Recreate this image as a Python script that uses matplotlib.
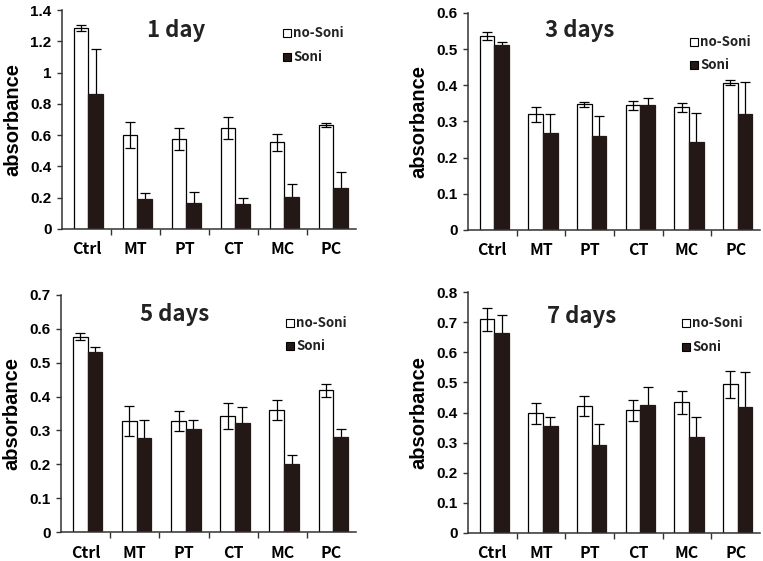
import matplotlib
matplotlib.use("Agg")
import matplotlib.pyplot as plt
import numpy as np
from matplotlib.patches import Rectangle

categories = ["Ctrl", "MT", "PT", "CT", "MC", "PC"]
titles = ["1 day", "3 days", "5 days", "7 days"]

day1_nosoni = [1.285, 0.60, 0.575, 0.645, 0.555, 0.665]
day1_nosoni_err = [0.02, 0.085, 0.07, 0.072, 0.055, 0.015]
day1_soni = [0.86, 0.19, 0.168, 0.163, 0.205, 0.265]
day1_soni_err = [0.29, 0.04, 0.07, 0.037, 0.08, 0.10]

day3_nosoni = [0.537, 0.320, 0.348, 0.345, 0.339, 0.407]
day3_nosoni_err = [0.011, 0.021, 0.007, 0.013, 0.012, 0.007]
day3_soni = [0.512, 0.269, 0.261, 0.346, 0.242, 0.320]
day3_soni_err = [0.008, 0.051, 0.053, 0.019, 0.081, 0.090]

day5_nosoni = [0.577, 0.328, 0.328, 0.343, 0.360, 0.418]
day5_nosoni_err = [0.011, 0.043, 0.030, 0.038, 0.030, 0.018]
day5_soni = [0.533, 0.277, 0.304, 0.323, 0.202, 0.280]
day5_soni_err = [0.013, 0.054, 0.027, 0.045, 0.025, 0.024]

day7_nosoni = [0.709, 0.398, 0.421, 0.407, 0.434, 0.493]
day7_nosoni_err = [0.038, 0.035, 0.033, 0.036, 0.038, 0.044]
day7_soni = [0.665, 0.354, 0.291, 0.426, 0.318, 0.419]
day7_soni_err = [0.058, 0.031, 0.071, 0.058, 0.067, 0.114]

ymaxs = [1.4, 0.6, 0.7, 0.8]
ysteps = [0.2, 0.1, 0.1, 0.1]

panels = [
    (day1_nosoni, day1_nosoni_err, day1_soni, day1_soni_err),
    (day3_nosoni, day3_nosoni_err, day3_soni, day3_soni_err),
    (day5_nosoni, day5_nosoni_err, day5_soni, day5_soni_err),
    (day7_nosoni, day7_nosoni_err, day7_soni, day7_soni_err),
]

W, H = 763, 561
fig = plt.figure(figsize=(W / 100, H / 100), dpi=100)

# axes boxes in pixel coords: left, right, top, bottom
boxes = [(62, 356, 10, 229), (468, 760, 13, 230), (61, 356, 295, 532), (468, 760, 292, 533)]
title_pos = [(176, 31), (580, 30), (175, 315), (582, 316)]
legend_pos = [(283, 33, 57), (690, 42, 65), (286, 323, 346), (682, 323, 347)]

BLACK = "#231815"
tickfont = {"family": "Liberation Sans", "weight": "bold", "size": 11}
catfont = ["Noto Sans CJK KR", "DejaVu Sans"]

for i, (ns, nse, s, se) in enumerate(panels):
    l, r, t, b = boxes[i]
    ax = fig.add_axes([l / W, 1 - b / H, (r - l) / W, (b - t) / H])
    x = np.arange(len(categories))
    w = 0.3
    off = 0.04
    ax.bar(x - w / 2 + off, ns, w, color="white", edgecolor="black", linewidth=0.9, zorder=2)
    ax.bar(x + w / 2 + off, s, w, color=BLACK, edgecolor=BLACK, linewidth=0.9, zorder=2)
    ax.errorbar(x - w / 2 + off, ns, yerr=nse, fmt="none", ecolor="black", elinewidth=0.9, capsize=3.5, capthick=0.9, zorder=3)
    ax.errorbar(x + w / 2 + off, s, yerr=se, fmt="none", ecolor="black", elinewidth=0.9, capsize=3.5, capthick=0.9, zorder=1)
    ax.set_xlim(-0.5, len(categories) - 0.5)
    ax.set_ylim(0, ymaxs[i])
    yt = np.round(np.arange(0, ymaxs[i] + 1e-9, ysteps[i]), 2)
    ax.set_yticks(yt)
    ax.set_yticklabels([("%g" % v) for v in yt], fontdict=tickfont)
    ax.set_xticks(x)
    ax.set_xticklabels(categories, family=catfont, weight="bold", size=11.5)
    ax.set_xticks(np.arange(0.5, len(categories) - 0.5, 1.0), minor=True)
    ax.tick_params(axis="x", which="major", length=0, pad=9)
    ax.tick_params(axis="x", which="minor", length=4, width=1, direction="out", color="#333333")
    ax.tick_params(axis="y", length=3.5, width=1, direction="out", color="#333333", pad=4)
    for sp in ["top", "right"]:
        ax.spines[sp].set_visible(False)
    for sp in ["left", "bottom"]:
        ax.spines[sp].set_linewidth(1.1)
        ax.spines[sp].set_color("#333333")
    ax.set_ylabel("absorbance", family="Liberation Sans", weight="bold", size=14.5, labelpad=6)

    tx, ty = title_pos[i]
    fig.text(tx / W, 1 - ty / H, titles[i], family=catfont, weight="bold", size=16,
             ha="center", va="center", color="#222222")
    lx, ly1, ly2 = legend_pos[i]
    for yy, fc, lab in [(ly1, "white", "no-Soni"), (ly2, BLACK, "Soni")]:
        fig.patches.append(Rectangle(((lx) / W, 1 - (yy + 4) / H), 8 / W, 8 / H,
                                     transform=fig.transFigure, facecolor=fc,
                                     edgecolor="black", linewidth=0.8))
        fig.text((lx + 10) / W, 1 - yy / H, lab, family=catfont, weight="bold",
                 size=9.5, ha="left", va="center", color="#222222")

fig.savefig("out.png", dpi=100)
